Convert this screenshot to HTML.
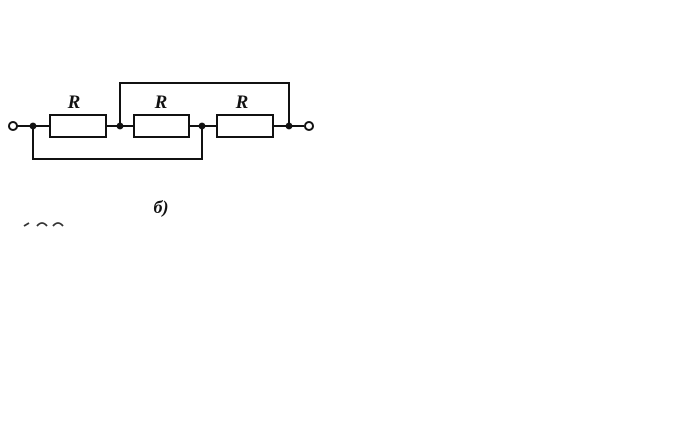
<!DOCTYPE html>
<html><head><meta charset="utf-8"><style>
html,body{margin:0;padding:0;background:#fff;}
</style></head><body>
<svg width="695" height="433" viewBox="0 0 695 433" xmlns="http://www.w3.org/2000/svg">
<g stroke="#111" stroke-width="2" fill="none">
<line x1="17" y1="126" x2="50" y2="126"/>
<rect x="50" y="115" width="56" height="22"/>
<line x1="106" y1="126" x2="134" y2="126"/>
<rect x="134" y="115" width="55" height="22"/>
<line x1="189" y1="126" x2="217" y2="126"/>
<rect x="217" y="115" width="56" height="22"/>
<line x1="273" y1="126" x2="304" y2="126"/>
<polyline points="120,126 120,83 289,83 289,126"/>
<polyline points="33,126 33,159 202,159 202,126"/>
<circle cx="13" cy="126" r="4" fill="#fff"/>
<circle cx="309" cy="126" r="4" fill="#fff"/>
</g>
<g fill="#111">
<circle cx="33" cy="126" r="3.4"/>
<circle cx="120" cy="126" r="3.4"/>
<circle cx="202" cy="126" r="3.4"/>
<circle cx="289" cy="126" r="3.4"/>
</g>
<g font-family="Liberation Serif, serif" font-style="italic" font-weight="bold" font-size="19" fill="#111" text-anchor="middle">
<text x="74" y="108">R</text>
<text x="161" y="108">R</text>
<text x="242" y="108">R</text>
<text x="161" y="213" font-size="18">б)</text>
</g>
<g stroke="#333" stroke-width="1.8" fill="none">
<path d="M24 226 L29 223"/>
<path d="M37 226 Q42 220 47 226"/>
<path d="M53 226 Q58 220 63 226"/>
</g>
</svg>
</body></html>
